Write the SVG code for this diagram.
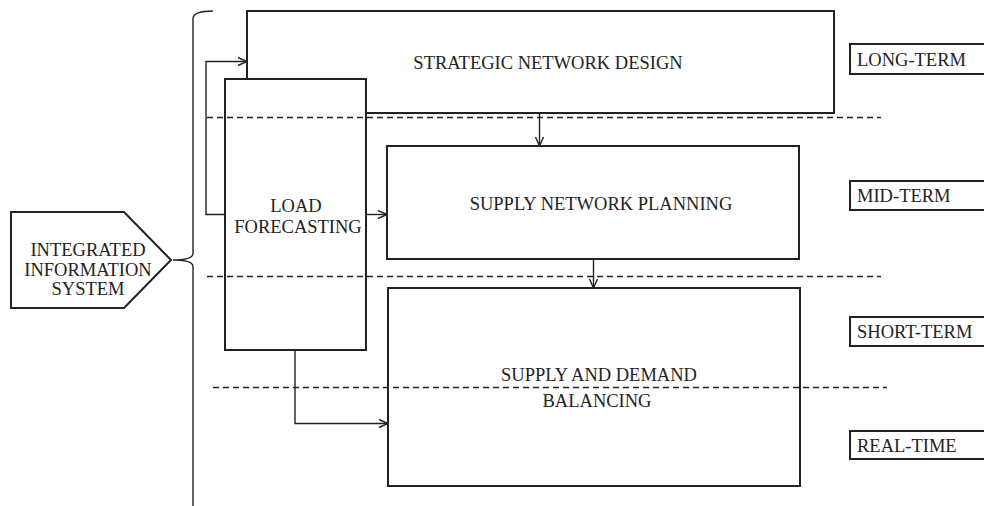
<svg xmlns="http://www.w3.org/2000/svg" width="984" height="506" viewBox="0 0 984 506">
<style>
.box{fill:#fff;stroke:#222;stroke-width:2}
.ln{fill:none;stroke:#222;stroke-width:1.4}
.dash{fill:none;stroke:#222;stroke-width:1.4;stroke-dasharray:6 4}
text{font-family:"Liberation Serif","Times New Roman",serif;font-size:18.5px;fill:#222}
.c{text-anchor:middle}
</style>
<defs>
<marker id="ah" viewBox="0 0 10 10" refX="10" refY="5" markerWidth="10" markerHeight="10" markerUnits="userSpaceOnUse" orient="auto">
<path d="M1,1 L10,5 L1,9" fill="none" stroke="#222" stroke-width="1.4"/>
</marker>
</defs>
<g id="strategic">
<rect class="box" x="247" y="11" width="587" height="102"/>
<text class="c" x="548" y="69">STRATEGIC NETWORK DESIGN</text>
</g>
<g id="load">
<rect class="box" x="225" y="79" width="141" height="271"/>
<text class="c" x="296" y="212">LOAD</text>
<text class="c" x="298" y="233">FORECASTING</text>
</g>
<g id="snp">
<rect class="box" x="387" y="146" width="412" height="113"/>
<text class="c" x="601" y="210">SUPPLY NETWORK PLANNING</text>
</g>
<g id="sdb">
<rect class="box" x="388" y="288" width="412" height="198"/>
<text class="c" x="599" y="381">SUPPLY AND DEMAND</text>
<text class="c" x="597" y="407">BALANCING</text>
</g>
<g id="iis">
<path class="box" d="M11,212 L124,212 L171,260 L124,308 L11,308 Z"/>
<text class="c" x="88" y="256">INTEGRATED</text>
<text class="c" x="88" y="276">INFORMATION</text>
<text class="c" x="88" y="295">SYSTEM</text>
</g>
<g id="brace">
<path class="ln" d="M213,11 Q194,11 193,18 L193,254 Q192,260 173,260 Q192,260 193,266 L193,506"/>
</g>
<g id="labels">
<g id="long"><rect class="box" x="850" y="44" width="140" height="30"/><text x="857" y="66">LONG-TERM</text></g>
<g id="mid"><rect class="box" x="850" y="181" width="140" height="29"/><text x="857" y="202">MID-TERM</text></g>
<g id="short"><rect class="box" x="850" y="317" width="140" height="29"/><text x="857" y="338">SHORT-TERM</text></g>
<g id="real"><rect class="box" x="850" y="431" width="140" height="28"/><text x="857" y="452">REAL-TIME</text></g>
</g>
<g id="dividers">
<line class="dash" x1="207" y1="117.5" x2="881" y2="117.5"/>
<line class="dash" x1="207" y1="276.5" x2="881" y2="276.5"/>
<line class="dash" x1="213" y1="387.5" x2="887" y2="387.5"/>
</g>
<g id="connectors">
<path class="ln" d="M225,214.5 L206,214.5 L206,61.5 L247,61.5" marker-end="url(#ah)"/>
<path class="ln" d="M366,214.5 L387,214.5" marker-end="url(#ah)"/>
<path class="ln" d="M539.5,113 L539.5,146" marker-end="url(#ah)"/>
<path class="ln" d="M593.5,259 L593.5,288" marker-end="url(#ah)"/>
<path class="ln" d="M295,350 L295,423.5 L388,423.5" marker-end="url(#ah)"/>
</g>
</svg>
